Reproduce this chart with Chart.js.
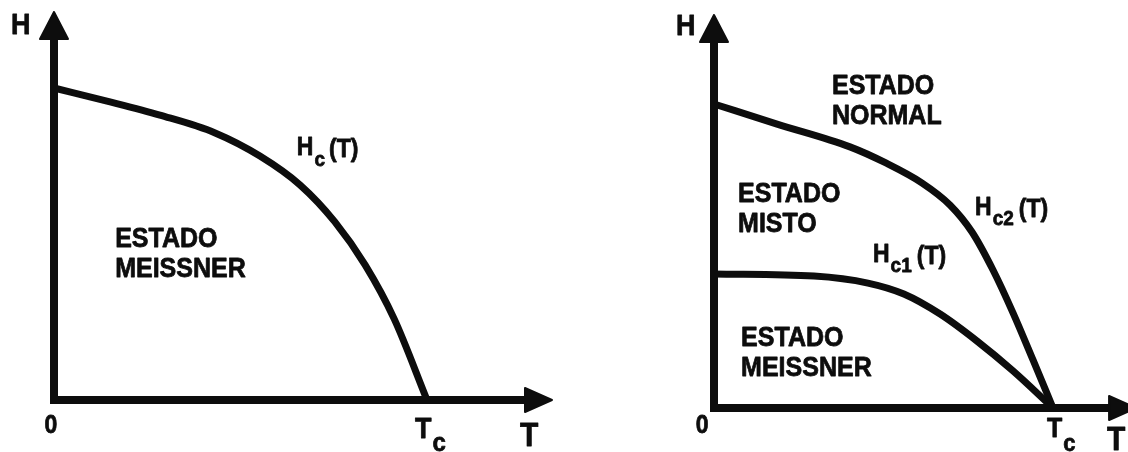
<!DOCTYPE html>
<html>
<head>
<meta charset="utf-8">
<title>Diagramas de fase H–T</title>
<script src="https://cdn.jsdelivr.net/npm/chart.js@4/dist/chart.umd.min.js"></script>
<style>
  html, body { margin: 0; padding: 0; background: #fff; }
  #wrap { position: relative; width: 1128px; height: 452px; overflow: hidden; background: #fff; }
  #wrap canvas { position: absolute; top: 0; }
</style>
</head>
<body>
<div id="wrap">
  <canvas id="tipo1" width="564" height="452" style="left:0"></canvas>
  <canvas id="tipo2" width="564" height="452" style="left:564px"></canvas>
</div>
<script>
// Tipo I: campo crítico Hc(T); T em unidades de Tc, H em unidades de Hc(0)
const tipo1T  = [0, 0.142, 0.284, 0.432, 0.552, 0.660, 0.753, 0.834, 0.912, 1];
const tipo1Hc = [1.0, 0.958, 0.913, 0.856, 0.782, 0.689, 0.571, 0.433, 0.260, 0];

// Tipo II: campo crítico superior Hc2(T); H em unidades de Hc2(0)
const tipo2T2  = [0, 0.186, 0.401, 0.507, 0.614, 0.696, 0.761, 0.823, 0.882, 0.941, 1];
const tipo2Hc2 = [1.0, 0.934, 0.859, 0.806, 0.740, 0.668, 0.579, 0.454, 0.313, 0.158, 0];

// Tipo II: campo crítico inferior Hc1(T)
const tipo2T1  = [0, 0.295, 0.454, 0.560, 0.667, 0.776, 0.882, 1];
const tipo2Hc1 = [0.441, 0.434, 0.411, 0.375, 0.309, 0.220, 0.122, 0];

const FONT = '"Liberation Sans", Arial, Helvetica, sans-serif';
const INK = '#0d0d0d';

const toPoints = (ts, hs) => ts.map((t, i) => ({ x: t, y: hs[i] }));

// Draws bold text slightly stretched vertically, baseline at (x, y)
function drawText(ctx, text, x, y, size, align) {
  ctx.save();
  ctx.font = 'bold ' + size + 'px ' + FONT;
  ctx.textAlign = align || 'left';
  ctx.textBaseline = 'alphabetic';
  ctx.translate(x, y);
  ctx.scale(1, 1.1);
  ctx.fillText(text, 0, 0);
  ctx.lineWidth = 0.7;
  ctx.strokeText(text, 0, 0);
  ctx.restore();
  ctx.font = 'bold ' + size + 'px ' + FONT;
  return ctx.measureText(text).width;
}

// Axes with arrowheads plus the region / curve labels
const phasePlugin = {
  id: 'phaseDiagram',
  afterDatasetsDraw(chart, args, opts) {
    const ctx = chart.ctx;
    const xs = chart.scales.x, ys = chart.scales.y;
    const x0 = xs.getPixelForValue(0), y0 = ys.getPixelForValue(0);
    const xt = xs.getPixelForValue(opts.xTip), yt = ys.getPixelForValue(opts.yTip);
    const L = 27, W = 28, lw = 8;

    ctx.save();
    ctx.strokeStyle = INK;
    ctx.fillStyle = INK;
    ctx.lineWidth = lw;
    ctx.lineCap = 'butt';
    ctx.beginPath();
    ctx.moveTo(x0, y0 + lw / 2);
    ctx.lineTo(x0, yt + L - 1);
    ctx.stroke();
    ctx.beginPath();
    ctx.moveTo(x0 - lw / 2, y0);
    ctx.lineTo(xt - L + 1, y0);
    ctx.stroke();

    ctx.lineWidth = 2;
    ctx.lineJoin = 'round';
    ctx.beginPath();
    ctx.moveTo(x0, yt);
    ctx.lineTo(x0 - W / 2, yt + L);
    ctx.lineTo(x0 + W / 2, yt + L);
    ctx.closePath();
    ctx.fill(); ctx.stroke();
    ctx.beginPath();
    ctx.moveTo(xt, y0);
    ctx.lineTo(xt - L, y0 - W / 2 + 2);
    ctx.lineTo(xt - L, y0 + W / 2 - 2);
    ctx.closePath();
    ctx.fill(); ctx.stroke();

    // labels
    for (const lb of opts.labels) {
      const px = xs.getPixelForValue(lb.t);
      const py = ys.getPixelForValue(lb.h);
      const lines = lb.text.split('\n');
      lines.forEach((line, i) => {
        const w = drawText(ctx, line, px, py + i * (lb.lead || 0), lb.size, lb.align);
        if (lb.sub && i === 0) {
          const sx = px + w + 1;
          const sw = drawText(ctx, lb.sub, sx, py + lb.subDy, lb.subSize);
          if (lb.rest) drawText(ctx, lb.rest, sx + sw + lb.gap, py + 2, lb.size);
        }
      });
    }
    ctx.restore();
  }
};

function lineSet(points) {
  return {
    data: points,
    borderColor: INK,
    borderWidth: 7,
    pointRadius: 0,
    fill: false,
    cubicInterpolationMode: 'monotone',
    borderCapStyle: 'butt',
    borderJoinStyle: 'round',
    clip: false
  };
}

function makeChart(id, datasets, pad, xMax, yMax, xTip, yTip, labels) {
  return new Chart(document.getElementById(id), {
    type: 'line',
    data: { datasets },
    options: {
      responsive: false,
      devicePixelRatio: 1,
      animation: false,
      events: [],
      layout: { padding: pad },
      scales: {
        x: { type: 'linear', min: 0, max: xMax, display: false },
        y: { type: 'linear', min: 0, max: yMax, display: false }
      },
      plugins: {
        legend: { display: false },
        tooltip: { enabled: false },
        phaseDiagram: { xTip, yTip, labels }
      }
    },
    plugins: [phasePlugin]
  });
}

makeChart('tipo1', [lineSet(toPoints(tipo1T, tipo1Hc))],
  { left: 54, right: 12, top: 12, bottom: 52 }, 1.3351, 1.2436, 1.3351, 1.2436,
  [
    { t: -0.115, h: 1.173, text: 'H', size: 27 },
    { t: -0.008, h: -0.106, text: '0', size: 23, align: 'center' },
    { t: 1.249, h: -0.147, text: 'T', size: 30 },
    { t: 0.968, h: -0.122, text: 'T', size: 27, sub: 'c', subSize: 24, subDy: 13, gap: 0 },
    { t: 0.164, h: 0.490, text: 'ESTADO\nMEISSNER', size: 25, lead: 30 },
    { t: 0.651, h: 0.785, text: 'H', size: 23, sub: 'c', subSize: 19, subDy: 11, rest: '(T)', gap: 4 }
  ]);

makeChart('tipo2', [lineSet(toPoints(tipo2T2, tipo2Hc2)), lineSet(toPoints(tipo2T1, tipo2Hc1))],
  { left: 150, right: 0, top: 15, bottom: 44 }, 1.2212, 1.2928, 1.245, 1.2928,
  [
    { t: -0.112, h: 1.227, text: 'H', size: 27 },
    { t: -0.035, h: -0.082, text: '0', size: 23, align: 'center' },
    { t: 1.159, h: -0.138, text: 'T', size: 30 },
    { t: 0.982, h: -0.095, text: 'T', size: 25, sub: 'c', subSize: 22, subDy: 14, gap: 0 },
    { t: 0.348, h: 1.033, text: 'ESTADO\nNORMAL', size: 25, lead: 30 },
    { t: 0.071, h: 0.678, text: 'ESTADO\nMISTO', size: 25, lead: 30 },
    { t: 0.080, h: 0.204, text: 'ESTADO\nMEISSNER', size: 25, lead: 30 },
    { t: 0.770, h: 0.635, text: 'H', size: 23, sub: 'c2', subSize: 19, subDy: 10, rest: '(T)', gap: 5 },
    { t: 0.469, h: 0.480, text: 'H', size: 23, sub: 'c1', subSize: 19, subDy: 10, rest: '(T)', gap: 5 }
  ]);
</script>
</body>
</html>
